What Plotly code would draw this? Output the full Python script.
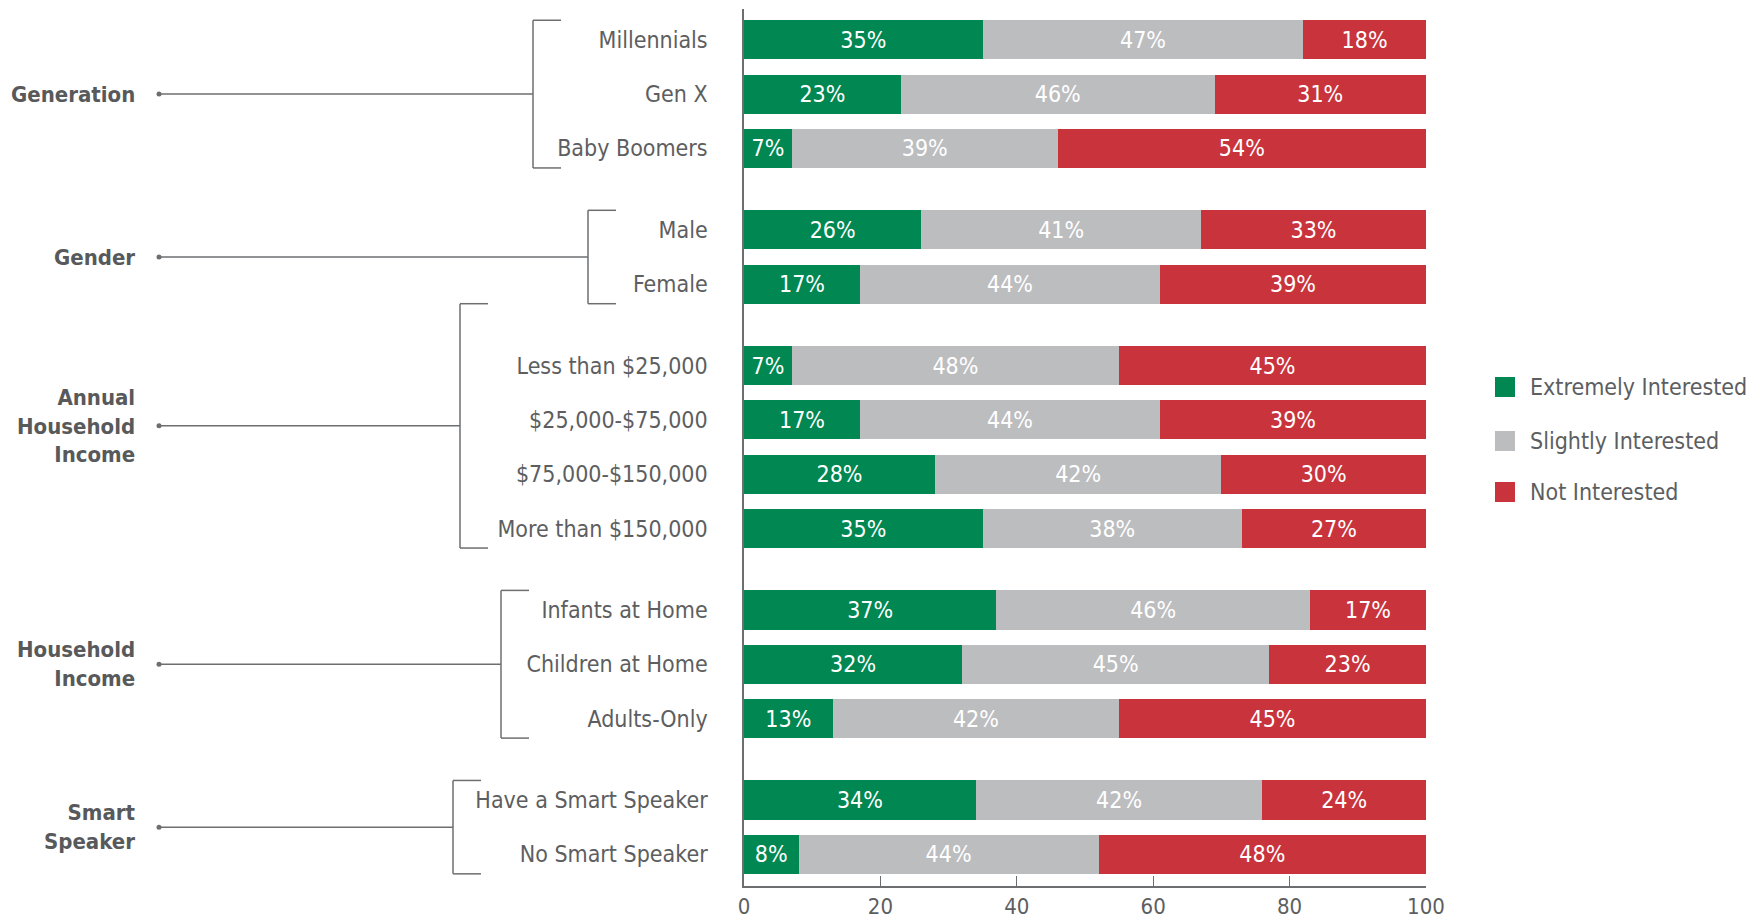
import plotly.graph_objects as go

# Survey breakdown: share of respondents by interest level
groups = ["Generation", "Gender", "Annual<br>Household<br>Income", "Household<br>Income", "Smart<br>Speaker"]
group_sizes = [3, 2, 4, 3, 2]
categories = [
    "Millennials", "Gen X", "Baby Boomers",
    "Male", "Female",
    "Less than $25,000", "$25,000-$75,000", "$75,000-$150,000", "More than $150,000",
    "Infants at Home", "Children at Home", "Adults-Only",
    "Have a Smart Speaker", "No Smart Speaker",
]
extremely = [35, 23, 7, 26, 17, 7, 17, 28, 35, 37, 32, 13, 34, 8]
slightly = [47, 46, 39, 41, 44, 48, 44, 42, 38, 46, 45, 42, 42, 44]
not_interested = [18, 31, 54, 33, 39, 45, 39, 30, 27, 17, 23, 45, 24, 48]

series_names = ["Extremely Interested", "Slightly Interested", "Not Interested"]
series_colors = ["#008752", "#bcbdbf", "#c9333c"]
tick_values = [0, 20, 40, 60, 80, 100]

FONT = "Liberation Sans Narrow, DejaVu Sans Condensed, Roboto Condensed, Arial Narrow, sans-serif"
TEXT_COLOR = "#5d5e60"
FS = 23
W, H = 1759, 922
PLOT_L, PLOT_R = 744, 1426
PLOT_T, PLOT_B = 9, 886
BAR_W = 0.72
GROUP_GAP = 1.5

# row positions: one slot per category, an extra half slot between groups
positions = []
p = 0.0
for gi, n in enumerate(group_sizes):
    if gi > 0:
        p += GROUP_GAP - 1
    for _ in range(n):
        positions.append(p)
        p += 1
first_c, last_c = 39.8, 854.3
slot = (last_c - first_c) / (positions[-1] - positions[0])
y_top = positions[0] - (first_c - PLOT_T) / slot
y_bot = positions[-1] + (PLOT_B - last_c) / slot


def px(x):
    return (x - PLOT_L) / (PLOT_R - PLOT_L)


fig = go.Figure()
for name, color, vals in zip(series_names, series_colors, [extremely, slightly, not_interested]):
    fig.add_trace(go.Bar(
        x=vals, y=positions, orientation="h", name=name,
        marker=dict(color=color, line=dict(width=0)), width=BAR_W,
        text=[f"{v}%" for v in vals], textposition="inside",
        insidetextanchor="middle", textangle=0, constraintext="none",
        textfont=dict(color="white", size=FS, family=FONT),
        showlegend=False, hoverinfo="skip",
    ))

shapes, annotations = [], []
LINE = dict(color="#6d6e70", width=1.5)

# group brackets, leader lines and group names
bracket_x = [533, 588, 460, 501, 453]
idx = 0
prev_bottom = None
for gi, n in enumerate(group_sizes):
    rows = positions[idx:idx + n]
    top = rows[0] - BAR_W / 2
    bottom = rows[-1] + BAR_W / 2
    if gi == 2 and prev_bottom is not None:
        top = prev_bottom
    prev_bottom = bottom
    bx = bracket_x[gi]
    mid = (top + bottom) / 2
    shapes.append(dict(type="line", xref="paper", yref="y", x0=px(bx), x1=px(bx), y0=top, y1=bottom, line=LINE))
    shapes.append(dict(type="line", xref="paper", yref="y", x0=px(bx), x1=px(bx + 28), y0=top, y1=top, line=LINE))
    shapes.append(dict(type="line", xref="paper", yref="y", x0=px(bx), x1=px(bx + 28), y0=bottom, y1=bottom, line=LINE))
    shapes.append(dict(type="line", xref="paper", yref="y", x0=px(159), x1=px(bx), y0=mid, y1=mid, line=LINE))
    shapes.append(dict(type="circle", xref="paper", yref="y", xsizemode="pixel", ysizemode="pixel",
                       xanchor=px(159), yanchor=mid, x0=-2.5, x1=2.5, y0=-2.5, y1=2.5,
                       fillcolor="#6d6e70", line=dict(width=0)))
    annotations.append(dict(xref="paper", yref="y", x=px(137), y=mid, text=f"<b>{groups[gi]}</b>",
                            showarrow=False, xanchor="right", yanchor="middle", align="right",
                            font=dict(family=FONT, size=22, color="#58595b")))
    idx += n

# legend drawn as swatches with labels
legend_y = [387, 441, 492]
for name, color, ly in zip(series_names, series_colors, legend_y):
    yp = 1 - (ly - PLOT_T) / (PLOT_B - PLOT_T)
    shapes.append(dict(type="rect", xref="paper", yref="paper", xsizemode="pixel", ysizemode="pixel",
                       xanchor=px(1505), yanchor=yp, x0=-10, x1=10, y0=-10, y1=10,
                       fillcolor=color, line=dict(width=0)))
    annotations.append(dict(xref="paper", yref="paper", x=px(1528), y=yp, text=name, showarrow=False,
                            xanchor="left", yanchor="middle",
                            font=dict(family=FONT, size=FS, color=TEXT_COLOR)))

fig.update_layout(
    width=W, height=H,
    margin=dict(l=PLOT_L, r=W - PLOT_R, t=PLOT_T, b=H - PLOT_B, autoexpand=False),
    barmode="stack", plot_bgcolor="white", paper_bgcolor="white",
    font=dict(family=FONT, color=TEXT_COLOR, size=FS),
    shapes=shapes, annotations=annotations,
    xaxis=dict(range=[0, 100], tickvals=tick_values, ticks="inside", ticklen=10, tickcolor="#6d6e70",
               showgrid=False, zeroline=False, showline=True, linecolor="#6d6e70", linewidth=1.5,
               automargin=False, ticklabelstandoff=0,
               tickfont=dict(size=22, color=TEXT_COLOR, family=FONT), fixedrange=True),
    yaxis=dict(range=[y_bot, y_top], tickvals=positions, ticktext=categories, ticks="",
               automargin=False, ticklabelstandoff=30, showgrid=False, zeroline=False, showline=True,
               linecolor="#6d6e70", linewidth=1.5,
               tickfont=dict(size=FS, color=TEXT_COLOR, family=FONT), fixedrange=True),
)

fig.write_html("out.html")
